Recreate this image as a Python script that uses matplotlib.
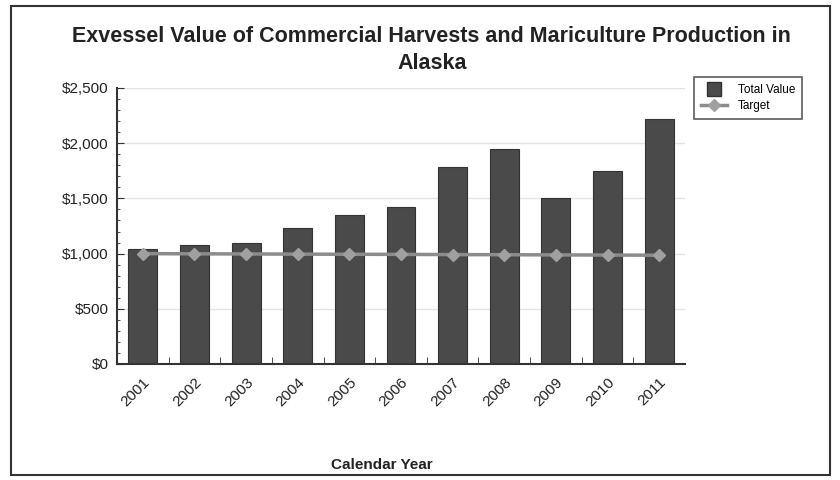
import matplotlib
matplotlib.use('Agg')
import matplotlib.pyplot as plt
from matplotlib.patches import Rectangle
from matplotlib.lines import Line2D
from matplotlib.transforms import ScaledTranslation
from matplotlib.ticker import FuncFormatter, MultipleLocator

plt.rcParams['font.family'] = ['Liberation Sans', 'DejaVu Sans']

years = ['2001', '2002', '2003', '2004', '2005', '2006', '2007', '2008', '2009', '2010', '2011']
total_value = [1040, 1080, 1100, 1230, 1350, 1420, 1780, 1950, 1500, 1750, 2220]
target = [1000, 998, 997, 995, 994, 993, 991, 990, 988, 987, 985]

fig = plt.figure(figsize=(8.4, 4.8), dpi=100)
ax = fig.add_axes([117 / 840, 1 - 364 / 480, 568 / 840, 276 / 480])

# outer frame of the chart
fig.patches.append(Rectangle((11 / 840, 5 / 480), 819 / 840, 469 / 480, transform=fig.transFigure,
                             fill=False, edgecolor='#333333', linewidth=1.5))

x = range(len(years))
ax.bar(x, total_value, width=0.56, color='#4a4a4a', edgecolor='#333333', linewidth=0.8, zorder=2)
ax.plot(x, target, color='#8c8c8c', linewidth=2.5, marker='D', markersize=6,
        markerfacecolor='#a0a0a0', markeredgecolor='#a0a0a0', zorder=3)

ax.set_xlim(-0.5, len(years) - 0.5)
ax.set_ylim(0, 2500)
ax.yaxis.set_major_locator(MultipleLocator(500))
ax.yaxis.set_minor_locator(MultipleLocator(100))
ax.yaxis.set_major_formatter(FuncFormatter(lambda v, p: f'${v:,.0f}'))
ax.grid(axis='y', color='#e4e4e4', linewidth=1, zorder=0)
ax.set_axisbelow(True)

ax.set_xticks(list(x))
ax.set_xticklabels(years, rotation=45, ha='right', rotation_mode='anchor', fontsize=11, color='#222222')
shift = ScaledTranslation(-4 / 100, 0, fig.dpi_scale_trans)
for lbl in ax.get_xticklabels():
    lbl.set_transform(lbl.get_transform() + shift)
ax.set_xticks([i + 0.5 for i in range(len(years) - 1)], minor=True)
ax.tick_params(axis='x', which='major', length=0, pad=8)
ax.tick_params(axis='x', which='minor', direction='in', length=5, color='#333333')
ax.tick_params(axis='y', which='major', direction='in', length=5, labelsize=11, color='#333333',
               labelcolor='#222222', pad=6)
ax.tick_params(axis='y', which='minor', direction='in', length=2.5, color='#333333')

for s in ['top', 'right']:
    ax.spines[s].set_visible(False)
for s in ['left', 'bottom']:
    ax.spines[s].set_color('#333333')
    ax.spines[s].set_linewidth(1.5)

fig.text(0.514, 1 - 50 / 480, 'Exvessel Value of Commercial Harvests and Mariculture Production in\nAlaska',
         ha='center', va='center', fontsize=15.5, fontweight='bold', color='#222222', linespacing=1.35)
fig.text(0.455, 1 - 465 / 480, 'Calendar Year', ha='center', va='center', fontsize=11,
         fontweight='bold', color='#222222')

handles = [
    Line2D([], [], linestyle='none', marker='s', markersize=10, markerfacecolor='#4a4a4a',
           markeredgecolor='#333333'),
    Line2D([], [], color='#8c8c8c', linewidth=2.5, marker='D', markersize=6,
           markerfacecolor='#a0a0a0', markeredgecolor='#a0a0a0'),
]
leg = ax.legend(handles, ['Total Value', 'Target'], loc='upper left',
                bbox_to_anchor=(694 / 840, 1 - 77 / 480), bbox_transform=fig.transFigure,
                fontsize=8.5, frameon=True, fancybox=False, edgecolor='#333333', borderpad=0.6,
                handlelength=2.2, labelspacing=0.35, borderaxespad=0, handletextpad=0.9)
leg.get_frame().set_linewidth(1.2)

fig.savefig('out.png', dpi=100)
